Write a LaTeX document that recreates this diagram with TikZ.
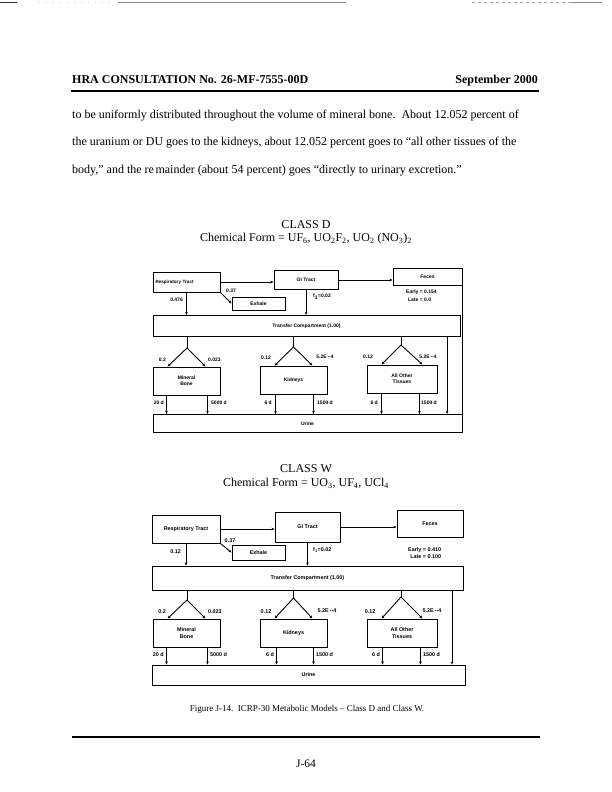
\documentclass[tikz,border=0pt]{standalone}
\usepackage{fontspec}
\setmainfont{Liberation Serif}
\newfontfamily\lab{Liberation Sans}
\usetikzlibrary{arrows.meta}
\begin{document}
\begin{tikzpicture}[x=1pt,y=-1pt,
  bx/.style={draw, line width=0.9pt, inner sep=0pt, align=center, font=\lab\bfseries\fontsize{5}{6}\selectfont},
  bxw/.style={bx, font=\lab\bfseries\fontsize{5.4}{6.4}\selectfont},
  lbl/.style={inner sep=0pt, font=\lab\bfseries\fontsize{5}{6}\selectfont},
  lblw/.style={inner sep=0pt, font=\lab\bfseries\fontsize{5.4}{6.4}\selectfont},
  ln/.style={line width=0.9pt},
  arr/.style={line width=0.9pt,-{Stealth[length=3.2pt,width=2.6pt]}},
  body/.style={inner sep=0pt, anchor=base west, font=\fontsize{12}{14}\selectfont},
  ttl/.style={inner sep=0pt, font=\fontsize{12}{14}\selectfont},
  rule/.style={line width=2pt},
  scan/.style={line width=0.6pt, black!45}]
\useasboundingbox[fill=white] (0,0) rectangle (611,792);
% scan marks at the top edge
\draw[scan, black!80] (0,2.5) -- (17,2.5);
\draw[scan, black!20, dash pattern=on 1pt off 6pt] (39,2) -- (114,2);
\draw[scan] (118,2) -- (346,2);
\draw[scan, black!35, dashed] (472,2) -- (571,2);
\draw[scan] (571,2) -- (602,2);
% header
\node[inner sep=0pt, anchor=base west, font=\bfseries\fontsize{12}{14}\selectfont] (hdl) at (72,83) {HRA CONSULTATION No. 26-MF-7555-00D};
\node[inner sep=0pt, anchor=base east, font=\bfseries\fontsize{12}{14}\selectfont] (hdr) at (538,83) {September 2000};
\draw[rule, line width=2.2pt] (71,91) -- (539,91);
% body text
\node[body] (t1) at (72,118) {to be uniformly distributed throughout the volume of mineral bone.\ \ About 12.052 percent of};
\node[body] (t2) at (72,145.5) {the uranium or DU goes to the kidneys, about 12.052 percent goes to “all other tissues of the};
\node[body] (t3) at (72,173) {body,” and the re\hspace{1.5pt}mainder (about 54 percent) goes “directly to urinary excretion.”};
% ================= CLASS D =================
\node[ttl] (cd) at (306,225) {CLASS D};
\node[ttl] (cdf) at (306,239) {Chemical Form = UF\textsubscript{6}, UO\textsubscript{2}F\textsubscript{2}, UO\textsubscript{2} (NO\textsubscript{3})\textsubscript{2}};
\node[bx, minimum width=67pt, minimum height=20pt, text width=62pt, align=left, font=\lab\bfseries\fontsize{4.6}{5.6}\selectfont] (resD) at (186.5,282) {Respiratory Tract};
\node[bx, minimum width=64pt, minimum height=19pt] (giD) at (306,280) {GI Tract};
\node[bx, minimum width=69pt, minimum height=17pt] (fecD) at (427.5,277) {Feces};
\draw[arr] (resD.east) -- (resD.east -| giD.west);
\draw[arr] (giD.east) -- (giD.east -| fecD.west);
\node[bx, minimum width=53pt, minimum height=13pt] (exD) at (258.5,303.5) {Exhale};
\draw[arr] (resD.south east) -- (exD.west);
\node[bx, minimum width=307pt, minimum height=21pt] (trD) at (306.5,326) {Transfer Compartment (1.00)};
\draw[arr] (resD.south) -- (resD.south |- trD.north);
\draw[arr] (giD.south) -- (giD.south |- trD.north);
\node[lbl, anchor=east] (l476) at (183,300) {0.476};
\node[lbl] (l37D) at (231,291) {0.37};
\node[lbl, anchor=west] (fD) at (313,297) {f\textsubscript{1}=0.02};
\node[lbl, anchor=north west] (elD) at (406,289) {\begin{tabular}{@{}r@{ = }l@{}}Early & 0.154\\[2pt] Late & 0.0\end{tabular}};
\coordinate (rlD) at (462.5,433);
\draw[ln] (fecD.north east) -- (fecD.north east |- rlD);
% compartments
\node[bx, minimum width=67pt, minimum height=28pt] (mbD) at (186.5,381) {Mineral\\Bone};
\node[bx, minimum width=67pt, minimum height=28pt] (kiD) at (293.5,380) {Kidneys};
\node[bx, minimum width=70pt, minimum height=28pt] (otD) at (402,379) {All Other\\Tissues};
\coordinate (aD1) at (187,348);
\coordinate (aD2) at (293.5,347);
\coordinate (aD3) at (401,345);
\draw[ln] (trD.south -| aD1) -- (aD1);
\draw[ln] (trD.south -| aD2) -- (aD2);
\draw[ln] (trD.south -| aD3) -- (aD3);
\draw[arr] (aD1) -- ([xshift=15pt]mbD.north west);
\draw[arr] (aD1) -- ([xshift=-15pt]mbD.north east);
\draw[arr] (aD2) -- ([xshift=15pt]kiD.north west);
\draw[arr] (aD2) -- ([xshift=-15pt]kiD.north east);
\draw[arr] (aD3) -- ([xshift=15pt]otD.north west);
\draw[arr] (aD3) -- ([xshift=-15pt]otD.north east);
\node[lbl, anchor=east] (qD1) at (166,360) {0.2};
\node[lbl, anchor=west] (qD2) at (208,360) {0.023};
\node[lbl] (qD3) at (266,358) {0.12};
\node[lbl] (qD4) at (325,357) {5.2E\,--4};
\node[lbl] (qD5) at (368,357) {0.12};
\node[lbl] (qD6) at (428,357) {5.2E\,--4};
\node[bx, minimum width=309pt, minimum height=18pt] (urD) at (307.5,423.5) {Urine};
\coordinate (bD1) at ([xshift=14pt]mbD.south west);
\coordinate (bD2) at ([xshift=-13pt]mbD.south east);
\coordinate (bD3) at ([xshift=16pt]kiD.south west);
\coordinate (bD4) at ([xshift=-14pt]kiD.south east);
\coordinate (bD5) at ([xshift=15pt]otD.south west);
\coordinate (bD6) at ([xshift=-18pt]otD.south east);
\coordinate (dD) at (447,0);
\draw[arr] (bD1) -- (bD1 |- urD.north);
\draw[arr] (bD2) -- (bD2 |- urD.north);
\draw[arr] (bD3) -- (bD3 |- urD.north);
\draw[arr] (bD4) -- (bD4 |- urD.north);
\draw[arr] (bD5) -- (bD5 |- urD.north);
\draw[arr] (bD6) -- (bD6 |- urD.north);
\draw[arr] (trD.south -| dD) -- (dD |- urD.north);
\node[lbl, anchor=east] (dD1) at (164,403) {20 d};
\node[lbl, anchor=west] (dD2) at (211,403) {5000 d};
\node[lbl, anchor=east] (dD3) at (272,403) {6 d};
\node[lbl, anchor=west] (dD4) at (317,403) {1500 d};
\node[lbl, anchor=east] (dD5) at (378,403) {6 d};
\node[lbl, anchor=west] (dD6) at (421,403) {1500 d};
% ================= CLASS W =================
\node[ttl] (cw) at (306,469) {CLASS W};
\node[ttl] (cwf) at (306,483) {Chemical Form = UO\textsubscript{3}, UF\textsubscript{4}, UCl\textsubscript{4}};
\node[bxw, minimum width=68pt, minimum height=28pt] (resW) at (186,529) {Respiratory Tract};
\node[bxw, minimum width=65pt, minimum height=30pt] (giW) at (307.5,527) {GI Tract};
\node[bxw, minimum width=66pt, minimum height=27pt] (fecW) at (430,524) {Feces};
\draw[arr] (resW.east) -- (resW.east -| giW.west);
\draw[arr] (giW.east) -- (giW.east -| fecW.west);
\node[bxw, minimum width=53pt, minimum height=15pt] (exW) at (258.5,552.5) {Exhale};
\draw[arr] (resW.south east) -- (exW.west);
\node[bxw, minimum width=311pt, minimum height=24pt] (trW) at (307.5,578) {Transfer Compartment (1.00)};
\draw[arr] (resW.south) -- (resW.south |- trW.north);
\draw[arr] (giW.south) -- (giW.south |- trW.north);
\node[lblw, anchor=east] (l12W) at (181,552) {0.12};
\node[lblw] (l37W) at (230,541) {0.37};
\node[lblw, anchor=west] (fW) at (313,550) {f\textsubscript{1}=0.02};
\node[lblw, anchor=north west] (elW) at (408,547) {\begin{tabular}{@{}r@{ = }l@{}}Early & 0.410\\[0pt] Late & 0.100\end{tabular}};
\node[bxw, minimum width=67pt, minimum height=28pt] (mbW) at (186.5,633) {Mineral\\Bone};
\node[bxw, minimum width=67pt, minimum height=28pt] (kiW) at (293.5,633) {Kidneys};
\node[bxw, minimum width=70pt, minimum height=28pt] (otW) at (402,633) {All Other\\Tissues};
\coordinate (aW1) at (187,600);
\coordinate (aW2) at (293.5,598);
\coordinate (aW3) at (401,597);
\draw[ln] (trW.south -| aW1) -- (aW1);
\draw[ln] (trW.south -| aW2) -- (aW2);
\draw[ln] (trW.south -| aW3) -- (aW3);
\draw[arr] (aW1) -- ([xshift=15pt]mbW.north west);
\draw[arr] (aW1) -- ([xshift=-15pt]mbW.north east);
\draw[arr] (aW2) -- ([xshift=15pt]kiW.north west);
\draw[arr] (aW2) -- ([xshift=-15pt]kiW.north east);
\draw[arr] (aW3) -- ([xshift=15pt]otW.north west);
\draw[arr] (aW3) -- ([xshift=-15pt]otW.north east);
\node[lblw, anchor=east] (qW1) at (166,612) {0.2};
\node[lblw, anchor=west] (qW2) at (208,612) {0.023};
\node[lblw] (qW3) at (266,612) {0.12};
\node[lblw] (qW4) at (327,611) {5.2E\,--4};
\node[lblw] (qW5) at (370,612) {0.12};
\node[lblw] (qW6) at (432,611) {5.2E\,--4};
\node[bxw, minimum width=313pt, minimum height=20pt] (urW) at (308.5,675) {Urine};
\coordinate (bW1) at ([xshift=14pt]mbW.south west);
\coordinate (bW2) at ([xshift=-13pt]mbW.south east);
\coordinate (bW3) at ([xshift=17pt]kiW.south west);
\coordinate (bW4) at ([xshift=-14pt]kiW.south east);
\coordinate (bW5) at ([xshift=16pt]otW.south west);
\coordinate (bW6) at ([xshift=-17pt]otW.south east);
\coordinate (dW) at (452,0);
\draw[arr] (bW1) -- (bW1 |- urW.north);
\draw[arr] (bW2) -- (bW2 |- urW.north);
\draw[arr] (bW3) -- (bW3 |- urW.north);
\draw[arr] (bW4) -- (bW4 |- urW.north);
\draw[arr] (bW5) -- (bW5 |- urW.north);
\draw[arr] (bW6) -- (bW6 |- urW.north);
\draw[arr] (trW.south -| dW) -- (dW |- urW.north);
\node[lblw, anchor=east] (dW1) at (164,655) {20 d};
\node[lblw, anchor=west] (dW2) at (210,655) {5000 d};
\node[lblw, anchor=east] (dW3) at (274,655) {6 d};
\node[lblw, anchor=west] (dW4) at (316,655) {1500 d};
\node[lblw, anchor=east] (dW5) at (380,655) {6 d};
\node[lblw, anchor=west] (dW6) at (423,655) {1500 d};
% caption and footer
\node[inner sep=0pt, font=\fontsize{9}{11}\selectfont] (cap) at (307,709) {Figure J-14.\ \ ICRP-30 Metabolic Models -- Class D and Class W.};
\draw[rule] (72,737) -- (540,737);
\node[inner sep=0pt, font=\fontsize{11.5}{13}\selectfont] (pg) at (306,764) {J-64};
\end{tikzpicture}
\end{document}
